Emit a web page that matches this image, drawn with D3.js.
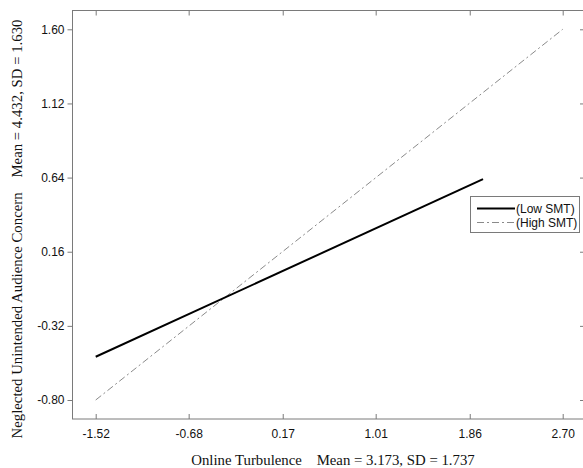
<!DOCTYPE html>
<html>
<head>
<meta charset="utf-8">
<script src="https://cdn.jsdelivr.net/npm/d3@7"></script>
<style>
  body { margin: 0; background: #fff; }
  svg { display: block; }
  .tick text { font-family: Arial, "Liberation Sans", sans-serif; font-size: 12px; fill: #111; }
  .lbl { font-family: "Times New Roman", "Liberation Serif", serif; font-size: 14.8px; fill: #111; white-space: pre; }
</style>
</head>
<body>
<div id="chart"></div>
<script>
// tick values
var xTicks = [-1.52, -0.68, 0.17, 1.01, 1.86, 2.70];
var yTicks = [-0.80, -0.32, 0.16, 0.64, 1.12, 1.60];

// simple slopes
var lowX = [-1.52, 1.98];
var lowY = [-0.52, 0.63];
var highX = [-1.52, 2.70];
var highY = [-0.80, 1.60];

var seriesNames = ["(Low SMT)", "(High SMT)"];

var svgwidth = 583;
var svgheight = 468;

// plot frame
var frame = { left: 72.5, right: 585, top: 10.5, bottom: 419 };

var svg = d3.select("#chart").append("svg")
  .attr("width", svgwidth)
  .attr("height", svgheight);

var xscale = d3.scaleLinear()
  .domain([-1.52, 2.70])
  .range([95.7, 562.7]);

var yscale = d3.scaleLinear()
  .domain([-0.80, 1.60])
  .range([400, 29.3]);

var frameColor = "#7a7a7a";
var fmt = d => d.toFixed(2);

// box
svg.append("rect")
  .attr("x", frame.left)
  .attr("y", frame.top)
  .attr("width", frame.right - frame.left)
  .attr("height", frame.bottom - frame.top)
  .attr("fill", "none")
  .attr("stroke", frameColor)
  .attr("stroke-width", 1);

// bottom axis, ticks pointing in
var xaxis = d3.axisBottom(xscale)
  .tickValues(xTicks)
  .tickFormat(fmt)
  .tickSizeInner(-5)
  .tickSizeOuter(0)
  .tickPadding(10);

var gx = svg.append("g")
  .attr("transform", `translate(0, ${frame.bottom})`)
  .call(xaxis);
gx.select(".domain").remove();
gx.selectAll(".tick line").attr("stroke", frameColor);

// top ticks
var gxt = svg.append("g")
  .attr("transform", `translate(0, ${frame.top})`)
  .call(d3.axisTop(xscale).tickValues(xTicks).tickSizeInner(-5).tickSizeOuter(0).tickFormat(""));
gxt.select(".domain").remove();
gxt.selectAll(".tick line").attr("stroke", frameColor);

// left axis, ticks out
var yaxis = d3.axisLeft(yscale)
  .tickValues(yTicks)
  .tickFormat(fmt)
  .tickSizeInner(5)
  .tickSizeOuter(0)
  .tickPadding(3);

var gy = svg.append("g")
  .attr("transform", `translate(${frame.left}, 0)`)
  .call(yaxis);
gy.select(".domain").remove();
gy.selectAll(".tick line").attr("stroke", frameColor);

// right ticks
var gyr = svg.append("g")
  .attr("transform", `translate(${frame.right}, 0)`)
  .call(d3.axisRight(yscale).tickValues(yTicks).tickSizeInner(-5).tickSizeOuter(0).tickFormat(""));
gyr.select(".domain").remove();
gyr.selectAll(".tick line").attr("stroke", frameColor);

// lines
var line = d3.line()
  .x(d => xscale(d[0]))
  .y(d => yscale(d[1]));

svg.append("path")
  .datum(d3.zip(highX, highY))
  .attr("d", line)
  .attr("fill", "none")
  .attr("stroke", "#8a8a8a")
  .attr("stroke-width", 1)
  .attr("stroke-dasharray", "7,3,2,3");

svg.append("path")
  .datum(d3.zip(lowX, lowY))
  .attr("d", line)
  .attr("fill", "none")
  .attr("stroke", "#000")
  .attr("stroke-width", 2);

// legend
var legend = svg.append("g");
legend.append("rect")
  .attr("x", 470.5)
  .attr("y", 196.5)
  .attr("width", 109)
  .attr("height", 36)
  .attr("fill", "#fff")
  .attr("stroke", frameColor);

legend.append("line")
  .attr("x1", 477).attr("x2", 515)
  .attr("y1", 208.5).attr("y2", 208.5)
  .attr("stroke", "#000").attr("stroke-width", 2);
legend.append("line")
  .attr("x1", 477).attr("x2", 515)
  .attr("y1", 222.5).attr("y2", 222.5)
  .attr("stroke", "#8a8a8a").attr("stroke-width", 1)
  .attr("stroke-dasharray", "7,3,2,3");

legend.selectAll("text.leg")
  .data(seriesNames)
  .enter()
  .append("text")
  .attr("class", "leg")
  .attr("x", 516)
  .attr("y", (d, i) => 213 + i * 14)
  .attr("font-family", "Arial, 'Liberation Sans', sans-serif")
  .attr("font-size", "12px")
  .attr("fill", "#111")
  .text(d => d);

// axis labels
svg.append("text")
  .attr("class", "lbl")
  .attr("x", 333)
  .attr("y", 465)
  .style("text-anchor", "middle")
  .text("Online Turbulence    Mean = 3.173, SD = 1.737");

svg.append("text")
  .attr("class", "lbl")
  .attr("transform", "rotate(-90)")
  .attr("x", -229)
  .attr("y", 22)
  .style("text-anchor", "middle")
  .text("Neglected Unintended Audience Concern    Mean = 4.432, SD = 1.630");
</script>
</body>
</html>
